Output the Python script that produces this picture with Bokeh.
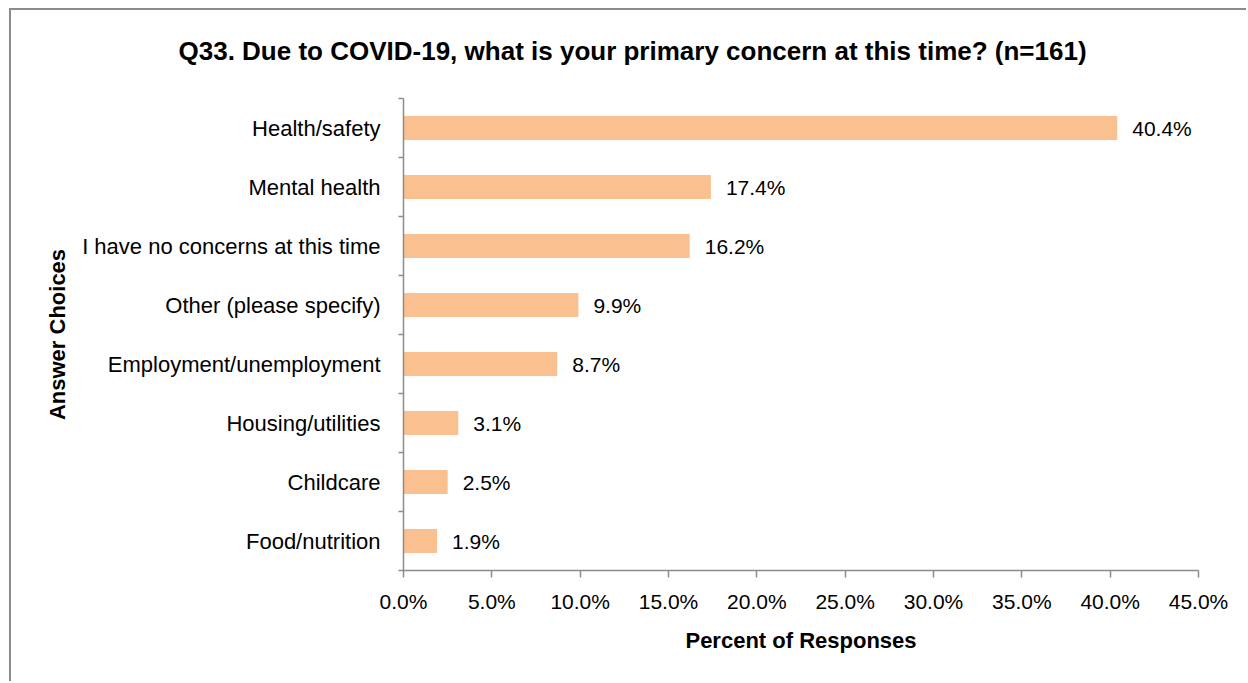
from bokeh.plotting import figure
from bokeh.models import FixedTicker, ColumnDataSource, Range1d, Title
from bokeh.embed import file_html
from bokeh.resources import INLINE
from bokeh.core.properties import value

categories = ["Health/safety", "Mental health", "I have no concerns at this time",
              "Other (please specify)", "Employment/unemployment", "Housing/utilities",
              "Childcare", "Food/nutrition"]
percents = [40.4, 17.4, 16.2, 9.9, 8.7, 3.1, 2.5, 1.9]
x_ticks = [0, 5, 10, 15, 20, 25, 30, 35, 40, 45]
title_text = "Q33. Due to COVID-19, what is your primary concern at this time? (n=161)"

FONT = "Liberation Sans"
n = len(categories)
centers = [n - i - 0.5 for i in range(n)]
labels = [f"{v:.1f}%" for v in percents]
src = ColumnDataSource(dict(y=centers, right=percents, label=labels))

p = figure(width=1237, height=673, output_backend="svg", toolbar_location=None,
           x_range=Range1d(0, 45), y_range=Range1d(0, n),
           min_border_left=392, min_border_right=50, min_border_bottom=113, min_border_top=88)
p.styles = {"border-top": "2px solid #8c8c8c", "border-left": "2px solid #8c8c8c",
            "margin-left": "9px", "margin-top": "8px"}
p.outline_line_color = None
p.xgrid.visible = False
p.ygrid.visible = False

p.hbar(y="y", right="right", left=0, height=0.41, source=src,
       fill_color="#FAC08F", line_color=None)
p.text(x="right", y="y", text="label", source=src, x_offset=15,
       text_baseline="middle", text_align="left", text_font=value(FONT),
       text_font_size="21px", text_color="#000000")

# spacer between frame and title
p.add_layout(Title(text=" ", text_font_size="10px", standoff=20), "above")

p.title.text = title_text
p.title.text_font = FONT
p.title.text_font_size = "26px"
p.title.text_font_style = "bold"
p.title.text_color = "#000000"
p.title.align = "left"
p.title.offset = -225
p.title.standoff = 0

# x axis
xa = p.xaxis[0]
xa.ticker = FixedTicker(ticks=x_ticks, minor_ticks=[])
xa.major_label_overrides = {t: f"{t:.1f}%" for t in x_ticks}
xa.axis_line_color = "#8c8c8c"
xa.axis_line_width = 1.5
xa.major_tick_line_color = "#8c8c8c"
xa.major_tick_line_width = 1.5
xa.major_tick_out = 7
xa.major_tick_in = 0
xa.minor_tick_line_color = None
xa.major_label_standoff = 12
xa.major_label_text_font = FONT
xa.major_label_text_font_size = "21px"
xa.major_label_text_color = "#000000"
xa.axis_label = "Percent of Responses"
xa.axis_label_text_font = FONT
xa.axis_label_text_font_size = "22px"
xa.axis_label_text_font_style = "bold"
xa.axis_label_text_color = "#000000"
xa.axis_label_standoff = 12

# y axis
ya = p.yaxis[0]
ya.ticker = FixedTicker(ticks=centers, minor_ticks=list(range(n + 1)))
ya.major_label_overrides = {c: cat for c, cat in zip(centers, categories)}
ya.axis_line_color = "#8c8c8c"
ya.axis_line_width = 1.5
ya.major_tick_line_color = None
ya.minor_tick_line_color = "#8c8c8c"
ya.minor_tick_line_width = 1.5
ya.minor_tick_out = 5
ya.minor_tick_in = 0
ya.major_tick_out = 5
ya.major_label_standoff = 18
ya.major_label_text_font = FONT
ya.major_label_text_font_size = "22px"
ya.major_label_text_color = "#000000"
ya.axis_label = "Answer Choices"
ya.axis_label_text_font = FONT
ya.axis_label_text_font_size = "22px"
ya.axis_label_text_font_style = "bold"
ya.axis_label_text_color = "#000000"
ya.axis_label_standoff = 9

open("out.html", "w").write(file_html(p, INLINE))
